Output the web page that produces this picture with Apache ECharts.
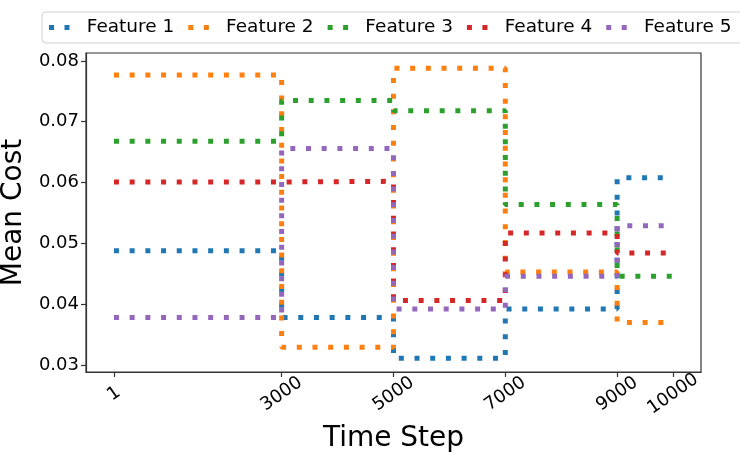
<!DOCTYPE html>
<html>
<head>
<meta charset="utf-8">
<script src="https://cdn.jsdelivr.net/npm/echarts@6/dist/echarts.min.js"></script>
<style>
html,body{margin:0;padding:0;background:#fff;}
#chart{width:740px;height:455px;}
</style>
</head>
<body>
<div id="chart"></div>
<script>
// Data
const steps = [1, 3000, 5000, 7000, 9000, 10000];
const seriesNames = ['Feature 1', 'Feature 2', 'Feature 3', 'Feature 4', 'Feature 5'];
const feature1 = [0.0488, 0.0378, 0.0311, 0.0392, 0.0608];
const feature2 = [0.0777, 0.0329, 0.0788, 0.0453, 0.0370];
const feature3 = [0.0668, 0.0735, 0.0718, 0.0564, 0.0446];
const feature4 = [0.0601, 0.0602, 0.0406, 0.0517, 0.0484];
const feature5 = [0.0378, 0.0656, 0.0392, 0.0446, 0.0529];
const xTicks = [1, 3000, 5000, 7000, 9000, 10000];
const yTicks = [0.03, 0.04, 0.05, 0.06, 0.07, 0.08];
const colors = ['#1f77b4', '#ff7f0e', '#2ca02c', '#d62728', '#9467bd'];

const allValues = [feature1, feature2, feature3, feature4, feature5];
const FONT = 'DejaVu Sans';

function buildData(vals) {
  return steps.map((s, i) => [s, vals[Math.min(i, vals.length - 1)]]);
}

const chart = echarts.init(document.getElementById('chart'), null, {renderer: 'canvas'});
const option = {
  animation: false,
  backgroundColor: '#fff',
  color: colors,
  textStyle: {fontFamily: FONT},
  legend: {
    left: 42,
    top: 12,
    width: 900,
    orient: 'horizontal',
    icon: 'path://M0,0h5v5h-5z M15.5,0h5v5h-5z',
    itemWidth: 21,
    itemHeight: 5,
    itemGap: 14,
    padding: [6, 14, 6, 7],
    borderColor: '#d0d0d0',
    borderWidth: 1,
    borderRadius: 4,
    backgroundColor: '#fff',
    textStyle: {fontFamily: FONT, fontSize: 18.5, color: '#000', padding: [0, 0, 0, 12]},
    data: seriesNames
  },
  grid: {
    left: 86, right: 39, top: 53, bottom: 83,
    outerBoundsMode: 'none',
    containLabel: false,
    show: true, borderColor: '#333', borderWidth: 1.2, backgroundColor: '#fff'
  },
  xAxis: {
    type: 'value',
    min: -499,
    max: 10500,
    name: 'Time Step',
    nameLocation: 'middle',
    nameGap: 50,
    nameTextStyle: {fontFamily: FONT, fontSize: 28, color: '#000'},
    axisLine: {show: true, onZero: false, lineStyle: {color: '#333', width: 1.2}},
    axisTick: {show: true, customValues: xTicks, length: 5, lineStyle: {color: '#333', width: 1.2}},
    axisLabel: {
      customValues: xTicks,
      rotate: 35,
      align: 'center',
      verticalAlign: 'middle',
      margin: 22,
      fontFamily: FONT, fontSize: 18, color: '#000',
      formatter: v => String(v)
    },
    splitLine: {show: false}
  },
  yAxis: {
    type: 'value',
    min: 0.02885,
    max: 0.0813,
    name: 'Mean Cost',
    nameLocation: 'middle',
    nameGap: 52,
    nameTextStyle: {fontFamily: FONT, fontSize: 28, color: '#000'},
    axisLine: {show: true, onZero: false, lineStyle: {color: '#333', width: 1.2}},
    axisTick: {show: true, customValues: yTicks, length: 5, lineStyle: {color: '#333', width: 1.2}},
    axisLabel: {
      customValues: yTicks,
      margin: 7,
      fontFamily: FONT, fontSize: 18, color: '#000',
      formatter: v => v.toFixed(2)
    },
    splitLine: {show: false}
  },
  series: allValues.map((vals, i) => ({
    name: seriesNames[i],
    type: 'line',
    step: 'end',
    symbol: 'none',
    data: buildData(vals),
    lineStyle: {color: colors[i], width: 5, type: [5, 10.7], cap: 'butt'},
    itemStyle: {color: colors[i]}
  }))
};
chart.setOption(option);
</script>
</body>
</html>
